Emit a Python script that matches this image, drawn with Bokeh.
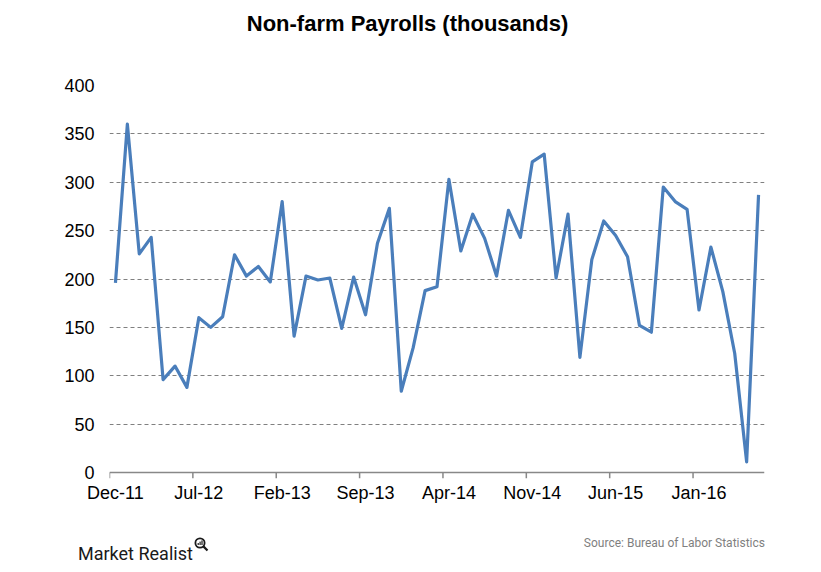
from bokeh.plotting import figure
from bokeh.models import FixedTicker, Range1d, Div
from bokeh.layouts import column
from bokeh.embed import file_html
from bokeh.resources import INLINE

months = ["Dec-11","Jan-12","Feb-12","Mar-12","Apr-12","May-12","Jun-12","Jul-12","Aug-12","Sep-12","Oct-12","Nov-12",
          "Dec-12","Jan-13","Feb-13","Mar-13","Apr-13","May-13","Jun-13","Jul-13","Aug-13","Sep-13","Oct-13","Nov-13",
          "Dec-13","Jan-14","Feb-14","Mar-14","Apr-14","May-14","Jun-14","Jul-14","Aug-14","Sep-14","Oct-14","Nov-14",
          "Dec-14","Jan-15","Feb-15","Mar-15","Apr-15","May-15","Jun-15","Jul-15","Aug-15","Sep-15","Oct-15","Nov-15",
          "Dec-15","Jan-16","Feb-16","Mar-16","Apr-16","May-16","Jun-16"]
payrolls = [196, 360, 226, 243, 96, 110, 88, 160, 150, 161, 225, 203,
            213, 197, 280, 141, 203, 199, 201, 149, 202, 163, 237, 273,
            84, 129, 188, 192, 303, 229, 267, 242, 203, 271, 243, 321,
            329, 201, 267, 119, 220, 260, 245, 223, 152, 145, 295, 280,
            272, 168, 233, 187, 123, 11, 287]
label_every = 7
y_ticks = [0, 50, 100, 150, 200, 250, 300, 350, 400]
title_text = "Non-farm Payrolls (thousands)"
brand_text = "Market Realist"
source_text = "Source: Bureau of Labor Statistics"

n = len(payrolls)
x = list(range(n))

TICK_LEN = 6.2  # depth of the x tick marks below zero, in data units
W = 821
TOP_H = 40
FIG_H = 480
BOT_H = 52

title_div = Div(
    text=(f'<div style="width:815px;text-align:center;font-family:\'Liberation Sans\',Arial,sans-serif;'
          f'font-weight:bold;font-size:22px;line-height:26px;padding-top:11px;margin:0;color:#000;'
          f'white-space:nowrap">{title_text}</div>'),
    width=W, height=TOP_H, margin=(0, 0, 0, 0))

p = figure(width=W, height=FIG_H, output_backend="svg", toolbar_location=None,
           x_range=Range1d(-0.5, n - 0.5), y_range=Range1d(-TICK_LEN, 400),
           min_border_left=109, min_border_right=57, min_border_top=45, min_border_bottom=42,
           margin=(0, 0, 0, 0))
p.outline_line_color = None
p.background_fill_color = "white"
p.border_fill_color = "white"

# zero axis line and tick marks at month boundaries
bounds = [i - 0.5 for i in range(0, n + 1, label_every)]
p.segment(x0=[-0.5], y0=[0], x1=[n - 0.5], y1=[0], line_color="#888888", line_width=1.5)
p.segment(x0=bounds, y0=[0] * len(bounds), x1=bounds, y1=[-TICK_LEN] * len(bounds),
          line_color="#888888", line_width=1.5)

p.line(x, payrolls, line_color="#4A7EBB", line_width=3.2, line_join="round")

# y axis
p.yaxis.ticker = FixedTicker(ticks=y_ticks)
p.yaxis.axis_line_color = None
p.yaxis.major_tick_line_color = None
p.yaxis.major_tick_out = 0
p.yaxis.major_tick_in = 0
p.yaxis.minor_tick_line_color = None
p.yaxis.major_label_text_font = "Liberation Sans"
p.yaxis.major_label_text_font_size = "18px"
p.yaxis.major_label_text_color = "#000000"
p.yaxis.major_label_standoff = 15

p.ygrid.ticker = FixedTicker(ticks=y_ticks[1:])
p.ygrid.grid_line_color = "#808080"
p.ygrid.grid_line_dash = "4 3"
p.ygrid.grid_line_width = 1
p.xgrid.grid_line_color = None

# x labels at month centres
label_pos = list(range(0, n, label_every))
p.xaxis.ticker = FixedTicker(ticks=label_pos)
p.xaxis.major_label_overrides = {i: months[i] for i in label_pos}
p.xaxis.axis_line_color = None
p.xaxis.major_tick_line_color = None
p.xaxis.major_tick_out = 0
p.xaxis.major_tick_in = 0
p.xaxis.minor_tick_line_color = None
p.xaxis.major_label_text_font = "Liberation Sans"
p.xaxis.major_label_text_font_size = "18px"
p.xaxis.major_label_text_color = "#000000"
p.xaxis.major_label_standoff = 4

icon = ('<svg width="15" height="15" viewBox="0 0 15 15" style="position:absolute;left:194px;top:17px">'
        '<circle cx="6" cy="6" r="4.6" fill="none" stroke="#1a1a1a" stroke-width="1.8"/>'
        '<line x1="9.4" y1="9.4" x2="13.5" y2="13.5" stroke="#1a1a1a" stroke-width="2.2"/>'
        '<rect x="3.6" y="6" width="1.2" height="2" fill="#1a1a1a"/>'
        '<rect x="5.5" y="4.6" width="1.2" height="3.4" fill="#1a1a1a"/>'
        '<rect x="7.4" y="3.4" width="1.2" height="4.6" fill="#1a1a1a"/></svg>')
footer_div = Div(
    text=(f'<div style="position:relative;width:{W}px;height:{BOT_H}px;margin:0">'
          f'<span style="position:absolute;left:78px;top:25px;font-family:Roboto,sans-serif;'
          f'font-size:18px;line-height:18px;color:#1a1a1a;white-space:nowrap">{brand_text}</span>'
          f'{icon}'
          f'<span style="position:absolute;right:56px;top:17px;font-family:Roboto,sans-serif;'
          f'font-size:12px;line-height:12px;color:#7f7f7f;white-space:nowrap">{source_text}</span>'
          f'</div>'),
    width=W, height=BOT_H, margin=(0, 0, 0, 0))

layout = column(title_div, p, footer_div, spacing=0)

open("out.html", "w").write(file_html(layout, INLINE))
